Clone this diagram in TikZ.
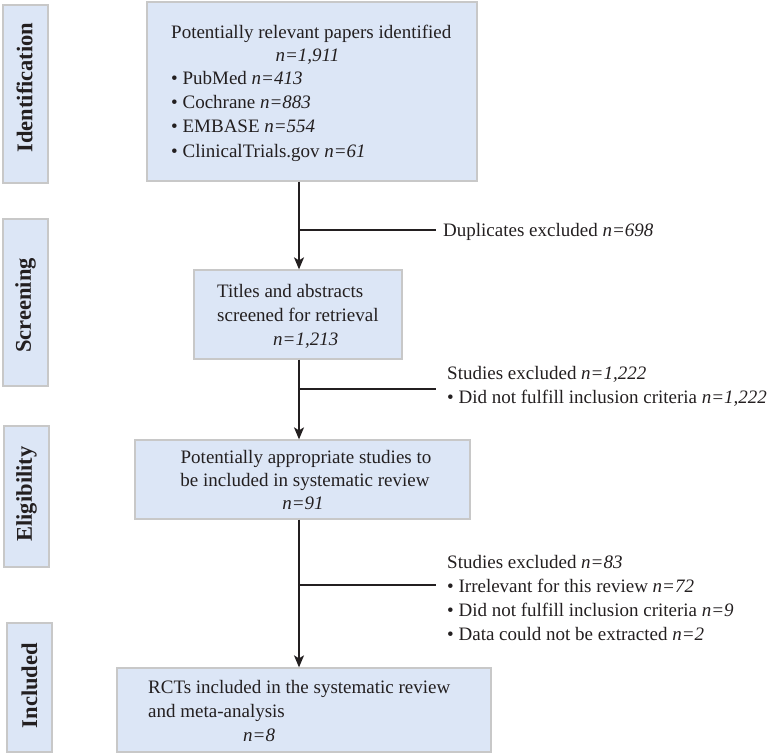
\documentclass[tikz,border=0pt]{standalone}
\usepackage{fontspec}
\setmainfont{Liberation Serif}
\usetikzlibrary{arrows.meta}
\definecolor{boxfill}{RGB}{220,230,246}
\definecolor{boxline}{RGB}{200,200,200}
\definecolor{ink}{RGB}{35,31,32}
\tikzset{
  flowbox/.style={draw=boxline, fill=boxfill, line width=1.3pt, inner sep=0, rectangle},
  sidelabel/.style={inner sep=0, rotate=90, text=ink, font=\bfseries\fontsize{22.5}{26}\selectfont},
  txt/.style={inner sep=0, anchor=base west, text=ink, font=\fontsize{19}{24}\selectfont},
  ctxt/.style={txt, anchor=base},
  conn/.style={draw=ink, line width=1.5pt},
  arr/.style={conn, -{Stealth[length=12pt,width=10pt,inset=3pt]}}
}
\begin{document}
\begin{tikzpicture}[x=1pt,y=-1pt]
\useasboundingbox (0,0) rectangle (771,755);
% side boxes and labels
\node[flowbox, minimum width=45, minimum height=178] (sid) at (25.5,94) {};
\node[flowbox, minimum width=45, minimum height=167] (ssc) at (25.5,302.5) {};
\node[flowbox, minimum width=45, minimum height=141] (sel) at (26.5,496.5) {};
\node[flowbox, minimum width=45, minimum height=129] (sin) at (29.5,687.5) {};
\node[sidelabel] (lid) at (24.5,87.5) {Identification};
\node[sidelabel] (lsc) at (25.5,305.5) {Screening};
\node[sidelabel] (lel) at (26.5,494) {Eligibility};
\node[sidelabel] (lin) at (29.5,685.5) {Included};
% main boxes
\node[flowbox, minimum width=330, minimum height=179] (b1) at (312,91.5) {};
\node[flowbox, minimum width=208, minimum height=89] (b2) at (298,314.5) {};
\node[flowbox, minimum width=335, minimum height=79] (b3) at (302.5,479.5) {};
\node[flowbox, minimum width=374, minimum height=84] (b4) at (304,710) {};
% box 1 text
\node[txt] (b1l1) at (171,38) {Potentially relevant papers identified};
\node[ctxt] (b1l2) at (307.5,61) {\textit{n=1,911}};
\node[txt] (b1l3) at (171,84) {\textbullet\ PubMed \textit{n=413}};
\node[txt] (b1l4) at (171,108) {\textbullet\ Cochrane \textit{n=883}};
\node[txt] (b1l5) at (171,132) {\textbullet\ EMBASE \textit{n=554}};
\node[txt] (b1l6) at (171,157) {\textbullet\ ClinicalTrials.gov \textit{n=61}};
% box 2 text
\node[txt] (b2l1) at (217,297) {Titles and abstracts};
\node[txt] (b2l2) at (217,321) {screened for retrieval};
\node[txt] (b2l3) at (273,345) {\textit{n=1,213}};
% box 3 text
\node[ctxt] (b3l1) at (306,463) {Potentially appropriate studies to};
\node[ctxt] (b3l2) at (305,486) {be included in systematic review};
\node[ctxt] (b3l3) at (303,509) {\textit{n=91}};
% box 4 text
\node[txt] (b4l1) at (148,693) {RCTs included in the systematic review};
\node[txt] (b4l2) at (148,717) {and meta-analysis};
\node[txt] (b4l3) at (243,741) {\textit{n=8}};
% exclusion texts
\node[txt] (t1) at (443,236) {Duplicates excluded \textit{n=698}};
\node[txt] (t2a) at (447,379) {Studies excluded \textit{n=1,222}};
\node[txt] (t2b) at (447,403) {\textbullet\ Did not fulfill inclusion criteria \textit{n=1,222}};
\node[txt] (t3a) at (447,568) {Studies excluded \textit{n=83}};
\node[txt] (t3b) at (447,592) {\textbullet\ Irrelevant for this review \textit{n=72}};
\node[txt] (t3c) at (447,616) {\textbullet\ Did not fulfill inclusion criteria \textit{n=9}};
\node[txt] (t3d) at (447,640) {\textbullet\ Data could not be extracted \textit{n=2}};
% connectors
\coordinate (ax) at (299,0);
\coordinate (j1) at (299,230);
\coordinate (e1) at (436,230);
\coordinate (j2) at (299,389);
\coordinate (e2) at (436,389);
\coordinate (j3) at (299,585);
\coordinate (e3) at (436,585);
\draw[arr] (b1.south -| ax) -- (b2.north -| ax);
\draw[arr] (b2.south -| ax) -- (b3.north -| ax);
\draw[arr] (b3.south -| ax) -- (b4.north -| ax);
\draw[conn] (j1) -- (e1);
\draw[conn] (j2) -- (e2);
\draw[conn] (j3) -- (e3);
\end{tikzpicture}
\end{document}
